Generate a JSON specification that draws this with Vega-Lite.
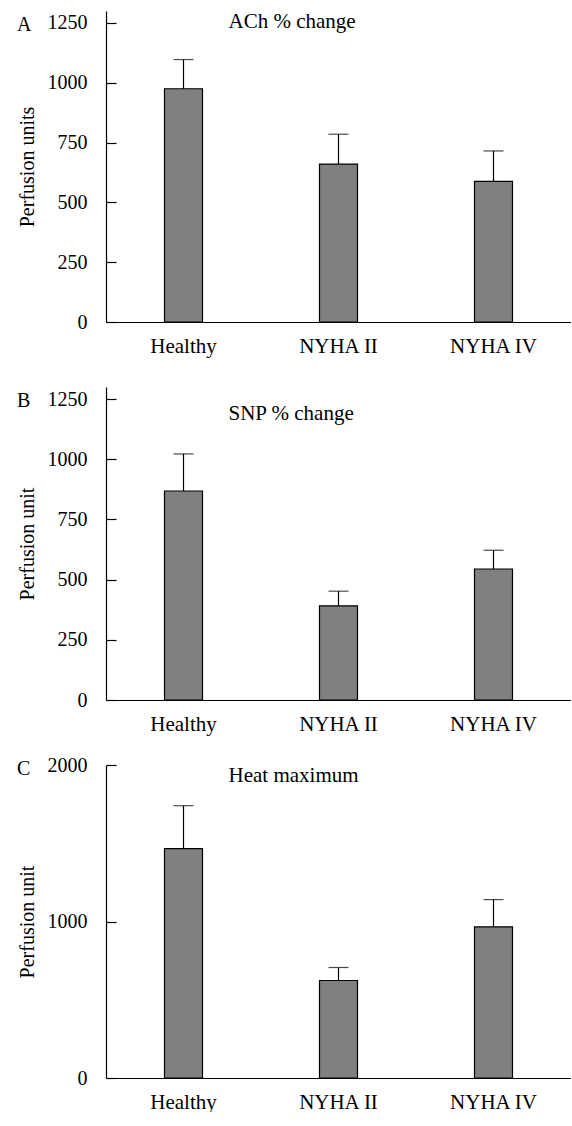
{
  "$schema": "https://vega.github.io/schema/vega-lite/v6.json",
  "padding": {"left": 17, "top": 10, "right": 0, "bottom": 0},
  "background": "white",
  "datasets": {
    "A": [
      {"group": "Healthy", "mean": 975, "upper": 1097},
      {"group": "NYHA II", "mean": 660, "upper": 785},
      {"group": "NYHA IV", "mean": 588, "upper": 715}
    ],
    "B": [
      {"group": "Healthy", "mean": 868, "upper": 1022},
      {"group": "NYHA II", "mean": 391, "upper": 452},
      {"group": "NYHA IV", "mean": 544, "upper": 622}
    ],
    "C": [
      {"group": "Healthy", "mean": 1466, "upper": 1740},
      {"group": "NYHA II", "mean": 623, "upper": 706},
      {"group": "NYHA IV", "mean": 966, "upper": 1140}
    ]
  },
  "bounds": "flush",
  "spacing": 65,
  "vconcat": [
    {
      "width": 465, "height": 311,
      "title": {"text": "A", "dy": 28},
      "layer": [
        {"data": {"name": "A"}, "mark": {"type": "bar", "fill": "#808080", "stroke": "black", "strokeWidth": 1.2, "size": 38},
         "encoding": {
           "x": {"field": "group", "type": "nominal", "sort": null, "scale": {"paddingInner": 0, "paddingOuter": 0}, "axis": {"title": null, "labelAngle": 0, "labelPadding": 23, "labelFontSize": 21}},
           "y": {"field": "mean", "type": "quantitative", "scale": {"domain": [0, 1250]}, "axis": {"title": "Perfusion units", "values": [0, 250, 500, 750, 1000, 1250], "format": "d", "labelPadding": 29, "titlePadding": 10}}}},
        {"data": {"name": "A"}, "mark": {"type": "rule", "color": "black", "strokeWidth": 1.2},
         "encoding": {"x": {"field": "group", "type": "nominal", "sort": null}, "y": {"field": "mean", "type": "quantitative"}, "y2": {"field": "upper"}}},
        {"data": {"name": "A"}, "mark": {"type": "tick", "color": "black", "thickness": 1.2, "size": 20},
         "encoding": {"x": {"field": "group", "type": "nominal", "sort": null}, "y": {"field": "upper", "type": "quantitative"}}},
        {"data": {"values": [{}]}, "mark": {"type": "text", "align": "left", "baseline": "middle", "font": "Liberation Serif", "fontSize": 21, "dx": 45, "dy": -1, "color": "black"},
         "encoding": {"x": {"datum": "Healthy", "type": "nominal"}, "y": {"datum": 1250, "type": "quantitative"}, "text": {"value": "ACh % change"}}}
      ]
    },
    {
      "width": 465, "height": 313,
      "title": {"text": "B", "dy": 28},
      "layer": [
        {"data": {"name": "B"}, "mark": {"type": "bar", "fill": "#808080", "stroke": "black", "strokeWidth": 1.2, "size": 38},
         "encoding": {
           "x": {"field": "group", "type": "nominal", "sort": null, "scale": {"paddingInner": 0, "paddingOuter": 0}, "axis": {"title": null, "labelAngle": 0, "labelPadding": 23, "labelFontSize": 21}},
           "y": {"field": "mean", "type": "quantitative", "scale": {"domain": [0, 1250]}, "axis": {"title": "Perfusion unit", "values": [0, 250, 500, 750, 1000, 1250], "format": "d", "labelPadding": 29, "titlePadding": 10}}}},
        {"data": {"name": "B"}, "mark": {"type": "rule", "color": "black", "strokeWidth": 1.2},
         "encoding": {"x": {"field": "group", "type": "nominal", "sort": null}, "y": {"field": "mean", "type": "quantitative"}, "y2": {"field": "upper"}}},
        {"data": {"name": "B"}, "mark": {"type": "tick", "color": "black", "thickness": 1.2, "size": 20},
         "encoding": {"x": {"field": "group", "type": "nominal", "sort": null}, "y": {"field": "upper", "type": "quantitative"}}},
        {"data": {"values": [{}]}, "mark": {"type": "text", "align": "left", "baseline": "middle", "font": "Liberation Serif", "fontSize": 21, "dx": 45, "dy": 15, "color": "black"},
         "encoding": {"x": {"datum": "Healthy", "type": "nominal"}, "y": {"datum": 1250, "type": "quantitative"}, "text": {"value": "SNP % change"}}}
      ]
    },
    {
      "width": 465, "height": 313,
      "title": {"text": "C", "dy": 28},
      "layer": [
        {"data": {"name": "C"}, "mark": {"type": "bar", "fill": "#808080", "stroke": "black", "strokeWidth": 1.2, "size": 38},
         "encoding": {
           "x": {"field": "group", "type": "nominal", "sort": null, "scale": {"paddingInner": 0, "paddingOuter": 0}, "axis": {"title": null, "labelAngle": 0, "labelPadding": 23, "labelFontSize": 21}},
           "y": {"field": "mean", "type": "quantitative", "scale": {"domain": [0, 2000]}, "axis": {"title": "Perfusion unit", "values": [0, 1000, 2000], "format": "d", "labelPadding": 29, "titlePadding": 10}}}},
        {"data": {"name": "C"}, "mark": {"type": "rule", "color": "black", "strokeWidth": 1.2},
         "encoding": {"x": {"field": "group", "type": "nominal", "sort": null}, "y": {"field": "mean", "type": "quantitative"}, "y2": {"field": "upper"}}},
        {"data": {"name": "C"}, "mark": {"type": "tick", "color": "black", "thickness": 1.2, "size": 20},
         "encoding": {"x": {"field": "group", "type": "nominal", "sort": null}, "y": {"field": "upper", "type": "quantitative"}}},
        {"data": {"values": [{}]}, "mark": {"type": "text", "align": "left", "baseline": "middle", "font": "Liberation Serif", "fontSize": 21, "dx": 45, "dy": 11, "color": "black"},
         "encoding": {"x": {"datum": "Healthy", "type": "nominal"}, "y": {"datum": 2000, "type": "quantitative"}, "text": {"value": "Heat maximum"}}}
      ]
    }
  ],
  "config": {
    "view": {"stroke": null},
    "font": "Liberation Serif",
    "title": {"font": "Liberation Serif", "fontSize": 20, "fontWeight": "normal", "color": "black", "anchor": "start", "frame": "bounds", "baseline": "middle", "offset": 0},
    "axis": {"domainColor": "black", "tickColor": "black", "labelColor": "black", "titleColor": "black", "labelFont": "Liberation Serif", "titleFont": "Liberation Serif", "labelFontSize": 20, "titleFontSize": 20, "titleFontWeight": "normal", "grid": false, "tickSize": -10, "domainWidth": 1.2, "tickWidth": 1.2}
  }
}
